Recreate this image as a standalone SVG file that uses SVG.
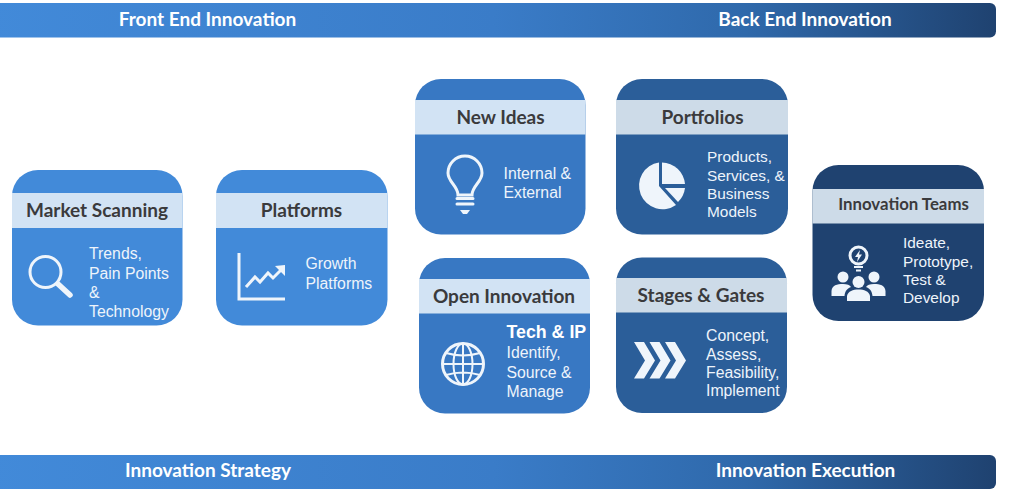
<svg xmlns="http://www.w3.org/2000/svg" width="1024" height="495" viewBox="0 0 1024 495">
<style>
.bar-t{font:700 19px Lato,"Liberation Sans",sans-serif;fill:#fff;text-anchor:middle}
.head{font:700 19px Lato,"Liberation Sans",sans-serif;fill:#3a3a3c;text-anchor:middle}
.body{font:15.800px "Liberation Sans",Arial,sans-serif;fill:#eef4fb}
.body2{font:15.400px "Liberation Sans",Arial,sans-serif;fill:#eef4fb}
.band{fill:#d2e3f4}
.band2{fill:#cddbe8}
.ic{fill:none;stroke:#eff5fb;stroke-width:3}
.icf{fill:#eff5fb}
</style>
<defs>
<linearGradient id="g" x1="0" x2="1" y1="0" y2="0">
<stop offset="0" stop-color="#428ad9"/><stop offset=".5" stop-color="#3a7cc8"/><stop offset=".75" stop-color="#2f69ab"/><stop offset="1" stop-color="#1f4270"/>
</linearGradient>
</defs>
<g id="top-bar"><rect x="-8" y="3" width="1004" height="34.500" rx="6" fill="url(#g)"/>
<text class="bar-t" x="207.500" y="26">Front End Innovation</text><text class="bar-t" x="805" y="26">Back End Innovation</text></g>
<g id="bottom-bar"><rect x="-8" y="455" width="1004" height="34" rx="6" fill="url(#g)"/>
<text class="bar-t" x="208" y="477">Innovation Strategy</text><text class="bar-t" x="805.500" y="477">Innovation Execution</text></g>
<g id="connectors"/>

<g id="market-scanning"><rect x="12" y="170" width="170.500" height="155.500" rx="26" fill="#428ad9"/><rect class="band" x="12" y="193" width="170.500" height="35"/>
<text class="head" x="97" y="217">Market Scanning</text>
<circle class="ic" cx="45.500" cy="272" r="15.500" stroke-width="3.500"/><path d="M58 284L70 295" fill="none" stroke="#eff5fb" stroke-width="5.500" stroke-linecap="round"/>
<text class="body"><tspan x="89" y="259">Trends,</tspan><tspan x="89" y="278.500">Pain Points</tspan><tspan x="89" y="298">&amp;</tspan><tspan x="89" y="317">Technology</tspan></text></g>

<g id="platforms"><rect x="216" y="170" width="171.500" height="155.500" rx="26" fill="#428ad9"/><rect class="band" x="216" y="193" width="171.500" height="35"/>
<text class="head" x="301.500" y="217">Platforms</text>
<path class="ic" d="M239 253V299H285"/><path d="M246 287L255 277L260 282L268 273L273 278L283 268" fill="none" stroke="#eff5fb" stroke-width="3"/><path class="icf" d="M275 266L285 265L285 276Z"/>
<text class="body"><tspan x="305.500" y="269">Growth</tspan><tspan x="305.500" y="288.500">Platforms</tspan></text></g>

<g id="new-ideas"><rect x="415" y="79" width="170.500" height="155.500" rx="26" fill="#3878c3"/><rect class="band" x="415" y="100" width="170.500" height="34.500"/>
<text class="head" x="500.500" y="123.500">New Ideas</text>
<path class="ic" d="M458 195C458 186 448 182 448 173A17 17 0 0 1 482 173C482 182 472 186 472 195Z" stroke-width="3.500"/>
<path d="M457 198.500H473M457 204H473" stroke="#eff5fb" stroke-width="3" stroke-linecap="round"/><path class="icf" d="M460 210H470L467 214H463Z"/>
<text class="body"><tspan x="503.500" y="179">Internal &amp;</tspan><tspan x="503.500" y="198">External</tspan></text></g>

<g id="portfolios"><rect x="616" y="79" width="172" height="155.500" rx="26" fill="#2b5e99"/><rect class="band2" x="616" y="100" width="172" height="34.500"/>
<text class="head" x="702.500" y="124">Portfolios</text>
<path class="icf" d="M659 162.500A23.500 23.500 0 1 0 676 205L659 186Z"/><path class="icf" d="M662 162.500A23.500 23.500 0 0 1 685 184H662Z"/><path class="icf" d="M665 188H685A23.500 23.500 0 0 1 678 202Z"/>
<text class="body2"><tspan x="707" y="162">Products,</tspan><tspan x="707" y="181">Services, &amp;</tspan><tspan x="707" y="199">Business</tspan><tspan x="707" y="217">Models</tspan></text></g>

<g id="open-innovation"><rect x="419" y="258" width="171" height="155.500" rx="26" fill="#3878c3"/><rect class="band" x="419" y="279" width="171" height="34.500"/>
<text class="head" x="504" y="303">Open Innovation</text>
<g class="ic"><circle cx="463" cy="364" r="20.500"/></g><g fill="none" stroke="#eff5fb" stroke-width="2"><ellipse cx="463" cy="364" rx="9.500" ry="20.500"/><path d="M463 344V384M443 364H483M446 353Q463 358 480 353M446 375Q463 370 480 375"/></g>
<text font-family="Liberation Sans,sans-serif" font-weight="700" font-size="17.800" fill="#fff" x="506.500" y="338">Tech &amp; IP</text>
<text class="body"><tspan x="506.500" y="358">Identify,</tspan><tspan x="506.500" y="377.500">Source &amp;</tspan><tspan x="506.500" y="397">Manage</tspan></text></g>

<g id="stages-gates"><rect x="616" y="257.500" width="171" height="155.500" rx="26" fill="#2b5e99"/><rect class="band2" x="616" y="278" width="171" height="34.500"/>
<text class="head" x="701" y="302">Stages &amp; Gates</text>
<path class="icf" d="M634 342H644L655 360.500L644 378.500H634L645 360.500Z"/><path class="icf" d="M649.500 342H659.500L670.500 360.500L659.500 378.500H649.500L660.500 360.500Z"/><path class="icf" d="M665 342H675L686 360.500L675 378.500H665L676 360.500Z"/>
<text class="body"><tspan x="706" y="341">Concept,</tspan><tspan x="706" y="360">Assess,</tspan><tspan x="706" y="378">Feasibility,</tspan><tspan x="706" y="396">Implement</tspan></text></g>

<g id="innovation-teams"><rect x="812.500" y="165" width="171.500" height="156" rx="26" fill="#1f4270"/><rect class="band2" x="812.500" y="189" width="171.500" height="34.500"/>
<text style="font:700 16.800px Lato,sans-serif;fill:#3a3a3c;text-anchor:middle" x="903.500" y="210">Innovation Teams</text>
<circle class="ic" cx="858.500" cy="255.500" r="8.500" stroke-width="2"/><path class="icf" d="M860 250L855 257H858L857 262L862 254.500H859Z"/><path d="M854 267H863M856 270.500H861" stroke="#eff5fb" stroke-width="1.800"/>
<circle class="icf" cx="843" cy="277" r="5.500"/><circle class="icf" cx="874" cy="277" r="5.500"/><circle class="icf" cx="858.500" cy="282" r="6"/>
<path class="icf" d="M831.500 296V291C832 285 837 284 843 284C847 284 850 285 851 287C846 289 845 292 844.500 296Z"/><path class="icf" d="M885.500 296V291C885 285 880 284 874 284C870 284 867 285 866 287C871 289 872 292 872.500 296Z"/><path class="icf" d="M847 301V296C848 291 853 289.500 858.500 289.500C864 289.500 869 291 870 296V301Z"/>
<text class="body2"><tspan x="903" y="248">Ideate,</tspan><tspan x="903" y="267">Prototype,</tspan><tspan x="903" y="285">Test &amp;</tspan><tspan x="903" y="303">Develop</tspan></text></g>
</svg>
